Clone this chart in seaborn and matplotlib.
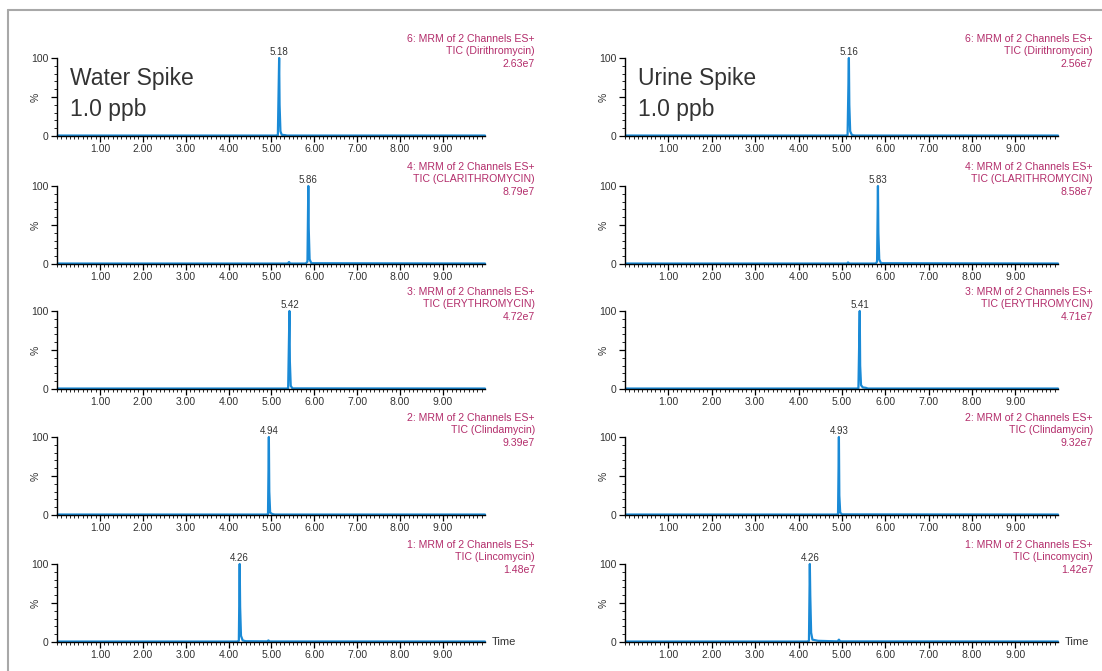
import matplotlib
matplotlib.use("Agg")
import matplotlib.pyplot as plt
from matplotlib.ticker import MultipleLocator
from matplotlib.lines import Line2D
import seaborn as sns

# --- datos ---
canales = [6, 4, 3, 2, 1]
compuestos = ["Dirithromycin", "CLARITHROMYCIN", "ERYTHROMYCIN", "Clindamycin", "Lincomycin"]

agua_tr = [5.18, 5.86, 5.42, 4.94, 4.26]
orina_tr = [5.16, 5.83, 5.41, 4.93, 4.26]
agua_int = ["2.63e7", "8.79e7", "4.72e7", "9.39e7", "1.48e7"]
orina_int = ["2.56e7", "8.58e7", "4.71e7", "9.32e7", "1.42e7"]

# cromatogramas (tiempo, %)
agua_t = [
    [0.02, 5.10, 5.15, 5.18, 5.19, 5.21, 5.24, 5.33, 5.36, 9.98],
    [0.02, 5.38, 5.41, 5.44, 5.80, 5.84, 5.86, 5.87, 5.89, 5.93, 9.98],
    [0.02, 5.35, 5.39, 5.42, 5.43, 5.45, 5.49, 9.98],
    [0.02, 4.88, 4.92, 4.94, 4.95, 4.97, 5.02, 5.08, 9.98],
    [0.02, 4.20, 4.24, 4.26, 4.27, 4.29, 4.33, 4.40, 4.90, 4.93, 4.96, 9.98],
]
agua_y = [
    [0.6, 0.6, 1.0, 100, 40, 6, 1.5, 1.0, 0.6, 0.6],
    [0.6, 0.6, 2.5, 0.6, 0.6, 3, 100, 45, 6, 1.0, 0.6],
    [0.6, 0.6, 1.0, 100, 35, 4, 0.8, 0.6],
    [0.6, 0.6, 1.0, 100, 30, 3, 1.2, 0.6, 0.6],
    [0.6, 0.6, 1.5, 100, 45, 8, 2.0, 1.0, 0.8, 2.0, 0.7, 0.6],
]
orina_t = [
    [0.02, 5.08, 5.13, 5.16, 5.17, 5.19, 5.23, 5.30, 9.98],
    [0.02, 5.12, 5.14, 5.17, 5.78, 5.81, 5.83, 5.84, 5.86, 5.90, 9.98],
    [0.02, 5.34, 5.38, 5.41, 5.42, 5.44, 5.48, 5.55, 5.60, 9.98],
    [0.02, 4.87, 4.91, 4.93, 4.94, 4.96, 5.00, 9.98],
    [0.02, 4.20, 4.24, 4.26, 4.27, 4.29, 4.32, 4.45, 4.90, 4.93, 4.96, 9.98],
]
orina_y = [
    [0.6, 0.6, 1.0, 100, 40, 6, 1.2, 0.6, 0.6],
    [0.6, 0.6, 2.0, 0.6, 0.6, 3, 100, 40, 6, 1.0, 0.6],
    [0.6, 0.6, 1.0, 100, 30, 5, 2.0, 1.5, 0.6, 0.6],
    [0.6, 0.6, 1.0, 100, 25, 3, 0.8, 0.6],
    [0.6, 0.6, 1.5, 100, 60, 12, 3.0, 1.5, 0.8, 3.0, 0.8, 0.6],
]

titulos = ["Water Spike\n1.0 ppb", "Urine Spike\n1.0 ppb"]

# --- grafica ---
sns.set_style("ticks")
plt.rcParams['font.family'] = ['Liberation Sans', 'DejaVu Sans']

W, H = 1102, 671
fig = plt.figure(figsize=(W / 100, H / 100), dpi=100)

azul = "#1a8ad6"
magenta = "#b32d6b"
gris = "#333333"

col_x = [(57, 485), (625, 1058)]
fila_y0 = [136, 264, 389, 515, 642]
alto = 78

conjuntos = [(agua_t, agua_y, agua_tr, agua_int), (orina_t, orina_y, orina_tr, orina_int)]

for c, (ts, ys, trs, ints) in enumerate(conjuntos):
    x0, x1 = col_x[c]
    for f in range(5):
        y0 = fila_y0[f]
        ax = fig.add_axes([x0 / W, 1 - y0 / H, (x1 - x0) / W, alto / H])
        sns.lineplot(x=ts[f], y=ys[f], ax=ax, color=azul, linewidth=1.6,
                     estimator=None, clip_on=False)
        ax.set_xlim(0.0, 9.98)
        ax.set_ylim(0, 100)
        sns.despine(ax=ax)
        for s in ["left", "bottom"]:
            ax.spines[s].set_linewidth(1.0)
            ax.spines[s].set_color("black")
        ax.set_yticks([0, 50, 100])
        ax.set_yticklabels(["0", "", "100"])
        ax.yaxis.set_minor_locator(MultipleLocator(10))
        ax.set_xticks(range(1, 10))
        ax.set_xticklabels([f"{v:.2f}" for v in range(1, 10)])
        ax.xaxis.set_minor_locator(MultipleLocator(0.1))
        ax.tick_params(axis="both", which="major", length=4, width=0.9,
                       labelsize=7.5, colors="black", labelcolor=gris, pad=2)
        ax.tick_params(axis="both", which="minor", length=2, width=0.7)
        ax.set_ylabel("%", fontsize=7.5, color=gris, labelpad=-7)
        ax.set_xlabel("")
        ax.patch.set_alpha(0)

        # etiqueta del pico
        ax.text(trs[f], 101, f"{trs[f]:.2f}", ha="center", va="bottom",
                fontsize=7, color=gris)

        # cabecera del canal
        xr = (x1 + 50) if c == 0 else 1093
        fig.text(xr / W, 1 - (y0 - 102) / H,
                 f"{canales[f]}: MRM of 2 Channels ES+\nTIC ({compuestos[f]})\n{ints[f]}",
                 ha="right", va="top", fontsize=7.6, color=magenta, linespacing=1.3)

        if f == 0:
            ax.text(0.03, 0.88, titulos[c], transform=ax.transAxes, ha="left",
                    va="top", fontsize=16.5, color=gris, linespacing=1.45)
        if f == 4:
            ax.text(1.015, 0.0, "Time", transform=ax.transAxes, ha="left",
                    va="center", fontsize=8, color=gris)

# marco gris
fig.add_artist(Line2D([8 / W, 1], [1 - 10 / H, 1 - 10 / H], color="#a8a8a8",
                      linewidth=1.5, transform=fig.transFigure))
fig.add_artist(Line2D([8 / W, 8 / W], [0, 1 - 10 / H], color="#a8a8a8",
                      linewidth=1.5, transform=fig.transFigure))

fig.savefig("out.png", dpi=100)
